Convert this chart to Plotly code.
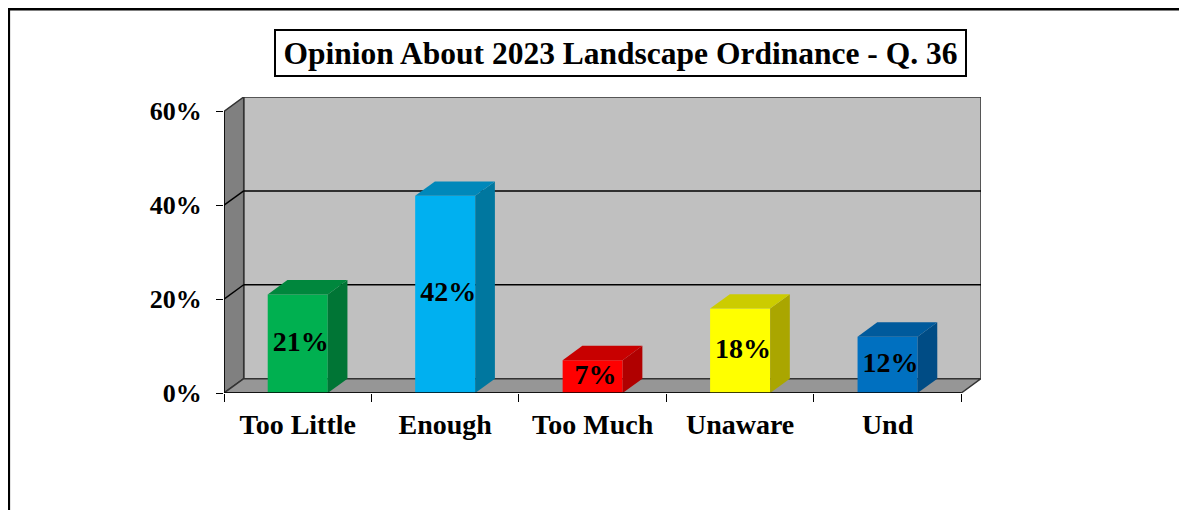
import plotly.graph_objects as go

categories = ["Too Little", "Enough", "Too Much", "Unaware", "Und"]
values = [21, 42, 7, 18, 12]
labels = ["21%", "42%", "7%", "18%", "12%"]
front_colors = ["#00B050", "#00B0F0", "#FF0000", "#FFFF00", "#0070C0"]
top_colors = ["#00873D", "#0088BA", "#C80000", "#CCCC00", "#005A9C"]
side_colors = ["#007535", "#00779F", "#B00000", "#AAA600", "#004C85"]
y_ticks = [0, 20, 40, 60]
y_ticktext = ["0%", "20%", "40%", "60%"]
title_text = "Opinion About 2023 Landscape Ordinance - Q. 36"

# 3D depth (in axis units)
DX = 0.1336
DY = 3.06
BW = 0.407
YMAX = 60
FONT = "Liberation Serif"

n = len(categories)
xs = list(range(n))
x_lo, x_hi = -0.5, n - 0.5

fig = go.Figure()

# front faces
fig.add_trace(go.Bar(x=xs, y=values, width=BW, marker=dict(color=front_colors, line=dict(width=0)),
                     hoverinfo="skip", showlegend=False))

# side and top faces
for i, v in enumerate(values):
    r = xs[i] + BW / 2
    l = xs[i] - BW / 2
    fig.add_trace(go.Scatter(x=[r, r + DX, r + DX, r, r], y=[0, DY, v + DY, v, 0], mode="lines",
                             fill="toself", fillcolor=side_colors[i], line=dict(width=0),
                             hoverinfo="skip", showlegend=False))
    fig.add_trace(go.Scatter(x=[l, r, r + DX, l + DX, l], y=[v, v, v + DY, v + DY, v], mode="lines",
                             fill="toself", fillcolor=top_colors[i], line=dict(width=0),
                             hoverinfo="skip", showlegend=False))

# data labels
fig.add_trace(go.Scatter(x=[x + 0.02 for x in xs], y=[v / 2 for v in values], mode="text", text=labels,
                         textposition="middle center",
                         textfont=dict(family=FONT, size=28, color="black", weight="bold"),
                         hoverinfo="skip", showlegend=False))

shapes = []
# back wall
shapes.append(dict(type="rect", xref="x", yref="y", x0=x_lo + DX, x1=x_hi + DX, y0=DY, y1=YMAX + DY,
                   fillcolor="#C0C0C0", line=dict(color="#333333", width=1.5), layer="below"))
# left wall
shapes.append(dict(type="path", xref="x", yref="y",
                   path=f"M {x_lo},0 L {x_lo + DX},{DY} L {x_lo + DX},{YMAX + DY} L {x_lo},{YMAX} Z",
                   fillcolor="#808080", line=dict(color="#333333", width=1.5), layer="below"))
# floor
shapes.append(dict(type="path", xref="x", yref="y",
                   path=f"M {x_lo},0 L {x_hi},0 L {x_hi + DX},{DY} L {x_lo + DX},{DY} Z",
                   fillcolor="#969696", line=dict(color="#333333", width=1.5), layer="below"))
# gridlines
for t in y_ticks[1:-1]:
    shapes.append(dict(type="line", xref="x", yref="y", x0=x_lo + DX, x1=x_hi + DX, y0=t + DY, y1=t + DY,
                       line=dict(color="black", width=1.5), layer="below"))
    shapes.append(dict(type="line", xref="x", yref="y", x0=x_lo, x1=x_lo + DX, y0=t, y1=t + DY,
                       line=dict(color="black", width=1.5), layer="below"))
# front axis lines
shapes.append(dict(type="line", xref="x", yref="y", x0=x_lo, x1=x_hi, y0=0, y1=0,
                   line=dict(color="black", width=1.5)))
shapes.append(dict(type="line", xref="x", yref="y", x0=x_lo, x1=x_lo, y0=0, y1=YMAX,
                   line=dict(color="black", width=1.5)))
# outer frame
shapes.append(dict(type="rect", xref="paper", yref="paper", x0=-0.2842, x1=1.6, y0=-1.0, y1=1.2966,
                   line=dict(color="black", width=2.5), fillcolor="rgba(0,0,0,0)", layer="below"))

fig.update_layout(
    width=1179, height=502, autosize=False,
    margin=dict(l=216, r=206, t=89, b=117, pad=0),
    paper_bgcolor="white", plot_bgcolor="rgba(0,0,0,0)",
    shapes=shapes, showlegend=False, barmode="overlay",
    xaxis=dict(range=[x_lo, x_hi + DX], tickvals=xs, ticktext=categories, ticks="",
               showgrid=False, zeroline=False, showline=False, fixedrange=True,
               tickfont=dict(family=FONT, size=28, color="black", weight="bold"), ticklabelstandoff=12,
               minor=dict(tick0=-0.5, dtick=1, ticks="outside", ticklen=8, tickwidth=1.2,
                          tickcolor="black", showgrid=False)),
    yaxis=dict(range=[0, YMAX + DY], tickvals=y_ticks, ticktext=y_ticktext, ticks="outside",
               ticklen=7, tickwidth=1.2, tickcolor="black",
               showgrid=False, zeroline=False, showline=False, fixedrange=True,
               tickfont=dict(family=FONT, size=26, color="black", weight="bold"), ticklabelstandoff=9),
    annotations=[dict(xref="paper", yref="paper", x=0.5238, y=1.1486, xanchor="center", yanchor="middle",
                      text="<b>" + title_text + "</b>", showarrow=False,
                      font=dict(family=FONT, size=31.5, color="black"),
                      width=683, height=38, align="center",
                      bgcolor="white", bordercolor="black", borderwidth=2, borderpad=3)],
)

fig.write_html("out.html")
